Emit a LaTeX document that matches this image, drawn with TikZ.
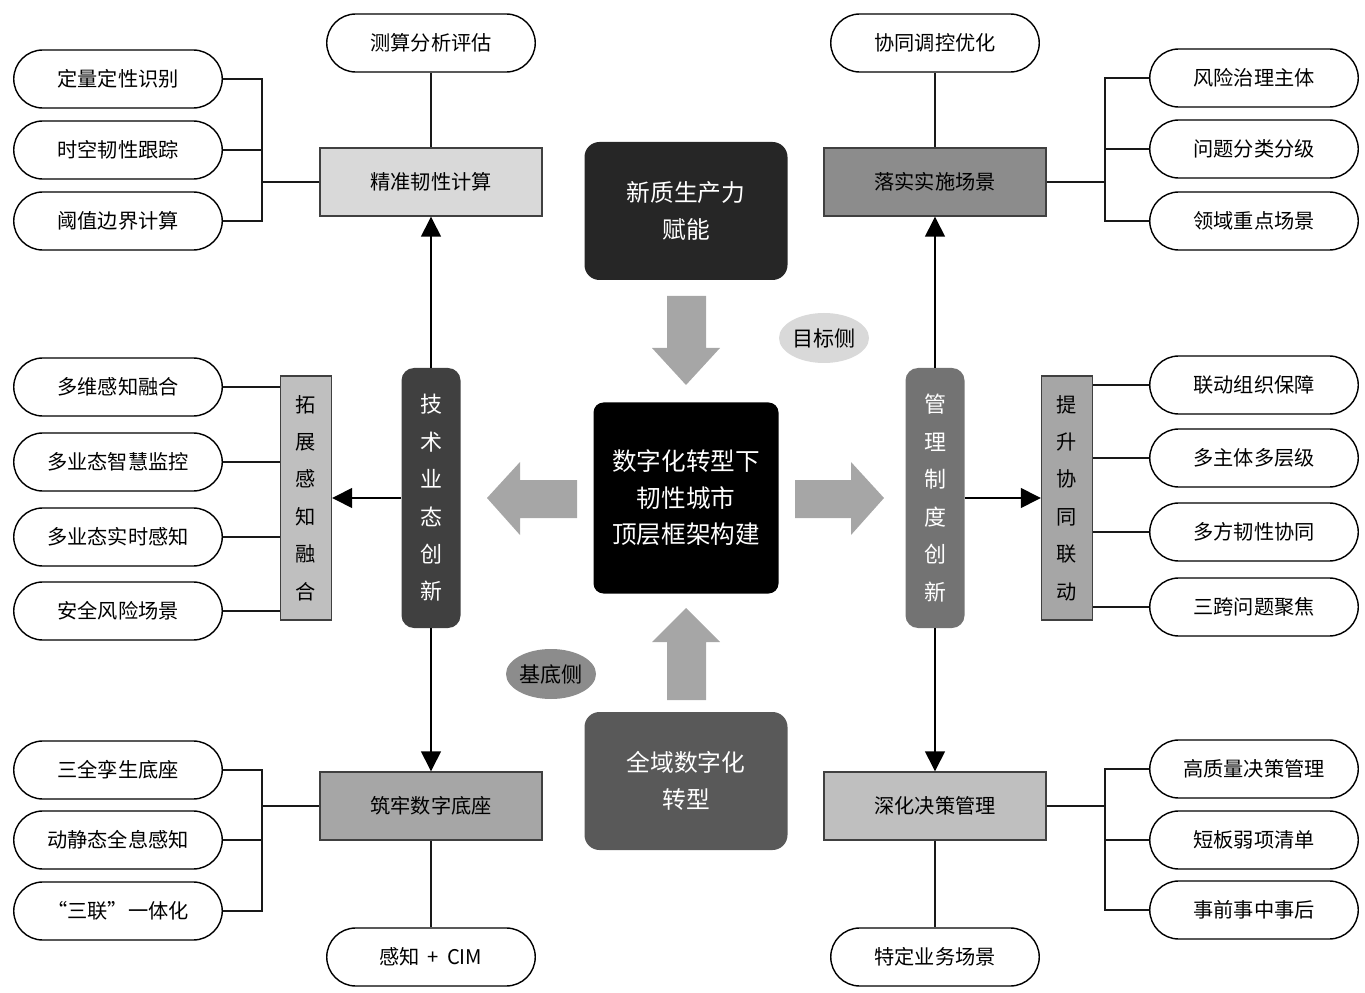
\documentclass[tikz,border=0pt]{standalone}
\usepackage{fontspec}
\setmainfont{Noto Sans CJK SC}
\usetikzlibrary{arrows.meta,positioning,shapes.misc,shapes.geometric,calc}
\definecolor{rcpale}{HTML}{D9D9D9}
\definecolor{rclight}{HTML}{BFBFBF}
\definecolor{rcmid}{HTML}{A6A6A6}
\definecolor{rcgrey}{HTML}{8C8C8C}
\definecolor{rcslate}{HTML}{737373}
\definecolor{rcdim}{HTML}{595959}
\definecolor{rcdark}{HTML}{404040}
\definecolor{rcink}{HTML}{262626}
\tikzset{
  rcpill/.style={
    rounded rectangle, draw=black, fill=white, line width=0.8pt,
    minimum width=42.4mm, minimum height=11.6mm, inner sep=1pt,
    font=\fontsize{11.5}{13}\selectfont
  },
  rcbox/.style={
    rectangle, draw=black!75, line width=0.8pt,
    minimum width=44.4mm, minimum height=13.6mm, inner sep=1pt,
    font=\fontsize{11.5}{13}\selectfont
  },
  rccol/.style={
    rectangle, rounded corners=2.5mm, text=white, align=center,
    minimum width=11.8mm, minimum height=52mm, inner sep=0pt,
    font=\fontsize{12.5}{21.3}\selectfont
  },
  rcbar/.style={
    rectangle, draw=black!75, line width=0.8pt, align=center,
    minimum width=10.2mm, minimum height=48.8mm, inner sep=0pt,
    font=\fontsize{11.5}{21.3}\selectfont
  },
  rccore/.style={
    rectangle, rounded corners=3mm, text=white, align=center,
    minimum width=40.6mm, minimum height=27.6mm, inner sep=1pt,
    font=\fontsize{13.5}{21}\selectfont
  },
  rctag/.style={
    ellipse, minimum width=18mm, minimum height=10mm, inner sep=0pt,
    font=\fontsize{12}{14}\selectfont
  },
  rcedge/.style={-{Triangle[length=4mm,width=4mm]},line width=0.8pt},
  rcline/.style={line width=0.9pt,draw=black!90},
  rcblock/.style={fill=rcmid}
}

\begin{document}
\begin{tikzpicture}[x=0.2mm,y=-0.2mm]
  \useasboundingbox (0,0) rectangle (1365,993);

  % centre column
  \node[rccore,fill=rcink] (engine) at (686,211) {新质生产力\\赋能};
  \node[rccore,fill=black,minimum width=37mm,minimum height=38.2mm,rounded corners=2mm,
        font=\fontsize{14}{20.7}\selectfont] (core) at (686,498) {数字化转型下\\韧性城市\\顶层框架构建};
  \node[rccore,fill=rcdim] (digital) at (686,781) {全域数字化\\转型};
  \node[rctag,fill=rcpale] (goal) at (824,338) {目标侧};
  \node[rctag,fill=rcgrey] (basis) at (551,674) {基底侧};
  \fill[rcblock] (667,296) -- (706,296) -- (706,348) -- (720,348) -- (686,385)
    -- (652,348) -- (667,348) -- cycle;
  \fill[rcblock] (667,700) -- (706,700) -- (706,642) -- (720,642) -- (686,608)
    -- (652,642) -- (667,642) -- cycle;
  \fill[rcblock] (577,480) -- (577,518) -- (520,518) -- (520,535) -- (487,498)
    -- (520,462) -- (520,480) -- cycle;
  \fill[rcblock] (795,480) -- (795,518) -- (851,518) -- (851,535) -- (884,498)
    -- (851,462) -- (851,480) -- cycle;

  % technology side
  \node[rccol,fill=rcdark] (tech) at (431,498) {技\\术\\业\\态\\创\\新};
  \node[rcbar,fill=rclight] (expand) at (306,498) {拓\\展\\感\\知\\融\\合};
  \draw[rcedge] (tech.west) -- (expand.east);
  \node[rcpill] (lm1) at (118,387) {多维感知融合};
  \node[rcpill] (lm2) at (118,462) {多业态智慧监控};
  \node[rcpill] (lm3) at (118,537) {多业态实时感知};
  \node[rcpill] (lm4) at (118,611) {安全风险场景};
  \draw[rcline] (lm1.east) -- (lm1.east -| expand.west);
  \draw[rcline] (lm2.east) -- (lm2.east -| expand.west);
  \draw[rcline] (lm3.east) -- (lm3.east -| expand.west);
  \draw[rcline] (lm4.east) -- (lm4.east -| expand.west);

  \node[rcbox,fill=rcpale] (calc) at (431,182) {精准韧性计算};
  \node[rcpill] (ltop) at (431,43) {测算分析评估};
  \node[rcpill] (lt1) at (118,79) {定量定性识别};
  \node[rcpill] (lt2) at (118,150) {时空韧性跟踪};
  \node[rcpill] (lt3) at (118,221) {阈值边界计算};
  \coordinate (jl1) at (262,182);
  \draw[rcedge] (tech.north) -- (calc.south);
  \draw[rcline] (ltop.south) -- (calc.north);
  \draw[rcline] (lt1.east) -| (jl1);
  \draw[rcline] (lt3.east) -| (jl1);
  \draw[rcline] (lt2.east) -- (lt2.east -| jl1);
  \draw[rcline] (jl1) -- (calc.west);

  \node[rcbox,fill=rcmid] (base) at (431,806) {筑牢数字底座};
  \node[rcpill] (lbot) at (431,957) {感知\ \,+\ \,CIM};
  \node[rcpill] (lb1) at (118,770) {三全孪生底座};
  \node[rcpill] (lb2) at (118,840) {动静态全息感知};
  \node[rcpill] (lb3) at (118,911) {“三联”一体化};
  \coordinate (jl2) at (262,806);
  \draw[rcedge] (tech.south) -- (base.north);
  \draw[rcline] (base.south) -- (lbot.north);
  \draw[rcline] (lb1.east) -| (jl2);
  \draw[rcline] (lb3.east) -| (jl2);
  \draw[rcline] (lb2.east) -- (lb2.east -| jl2);
  \draw[rcline] (jl2) -- (base.west);

  % management side
  \node[rccol,fill=rcslate] (mgmt) at (935,498) {管\\理\\制\\度\\创\\新};
  \node[rcbar,fill=rcmid] (link) at (1067,498) {提\\升\\协\\同\\联\\动};
  \draw[rcedge] (mgmt.east) -- (link.west);
  \node[rcpill] (rm1) at (1254,385) {联动组织保障};
  \node[rcpill] (rm2) at (1254,458) {多主体多层级};
  \node[rcpill] (rm3) at (1254,532) {多方韧性协同};
  \node[rcpill] (rm4) at (1254,607) {三跨问题聚焦};
  \draw[rcline] (rm1.west) -- (rm1.west -| link.east);
  \draw[rcline] (rm2.west) -- (rm2.west -| link.east);
  \draw[rcline] (rm3.west) -- (rm3.west -| link.east);
  \draw[rcline] (rm4.west) -- (rm4.west -| link.east);

  \node[rcbox,fill=rcgrey] (scene) at (935,182) {落实实施场景};
  \node[rcpill] (rtop) at (935,43) {协同调控优化};
  \node[rcpill] (rt1) at (1254,78) {风险治理主体};
  \node[rcpill] (rt2) at (1254,149) {问题分类分级};
  \node[rcpill] (rt3) at (1254,221) {领域重点场景};
  \coordinate (jr1) at (1105,182);
  \draw[rcedge] (mgmt.north) -- (scene.south);
  \draw[rcline] (rtop.south) -- (scene.north);
  \draw[rcline] (rt1.west) -| (jr1);
  \draw[rcline] (rt3.west) -| (jr1);
  \draw[rcline] (rt2.west) -- (rt2.west -| jr1);
  \draw[rcline] (jr1) -- (scene.east);

  \node[rcbox,fill=rclight] (decide) at (935,806) {深化决策管理};
  \node[rcpill] (rbot) at (935,957) {特定业务场景};
  \node[rcpill] (rb1) at (1254,769) {高质量决策管理};
  \node[rcpill] (rb2) at (1254,840) {短板弱项清单};
  \node[rcpill] (rb3) at (1254,910) {事前事中事后};
  \coordinate (jr2) at (1105,806);
  \draw[rcedge] (mgmt.south) -- (decide.north);
  \draw[rcline] (decide.south) -- (rbot.north);
  \draw[rcline] (rb1.west) -| (jr2);
  \draw[rcline] (rb3.west) -| (jr2);
  \draw[rcline] (rb2.west) -- (rb2.west -| jr2);
  \draw[rcline] (jr2) -- (decide.east);
\end{tikzpicture}
\end{document}
